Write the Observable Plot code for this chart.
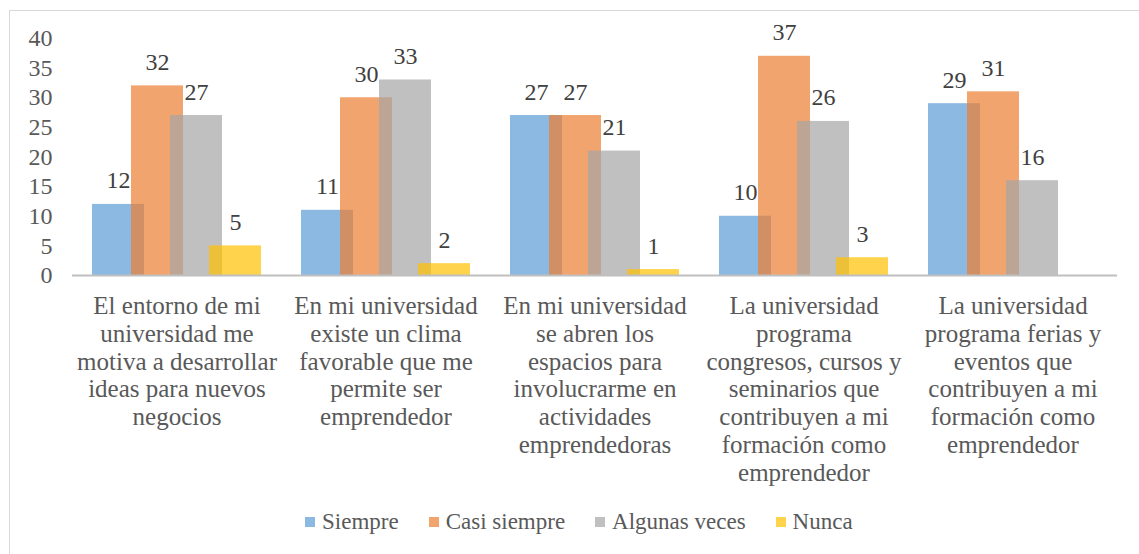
<!DOCTYPE html>
<html>
<head>
<meta charset="utf-8">
<script src="https://cdn.jsdelivr.net/npm/d3@7"></script>
<script src="https://cdn.jsdelivr.net/npm/@observablehq/plot@0.6"></script>
<style>
  html, body { margin: 0; padding: 0; background: #fff; overflow: hidden; }
  #wrap { position: relative; width: 1139px; height: 554px; overflow: hidden; }
  #frame { position: absolute; left: 9px; top: 10px; width: 1140px; height: 560px; border: 1.5px solid #D9D9D9; box-sizing: border-box; }
  #chart { position: absolute; left: 0; top: 0; }
  #legend { position: absolute; top: 506px; left: 305px; height: 32px; display: flex; align-items: center;
            font-size: 23px; color: #595959; }
  .item { display: flex; align-items: center; margin-right: 30px; }
  .sw { width: 10px; height: 10px; margin-right: 7px; }
</style>
</head>
<body>
<div id="wrap">
  <div id="frame"></div>
  <div id="chart"></div>
  <div id="legend" style="font-family:'Liberation Serif'"></div>
</div>
<script>
const categories = [
  "El entorno de mi\nuniversidad me\nmotiva a desarrollar\nideas para nuevos\nnegocios",
  "En mi universidad\nexiste un clima\nfavorable que me\npermite ser\nemprendedor",
  "En mi universidad\nse abren los\nespacios para\ninvolucrarme en\nactividades\nemprendedoras",
  "La universidad\nprograma\ncongresos, cursos y\nseminarios que\ncontribuyen a mi\nformación como\nemprendedor",
  "La universidad\nprograma ferias y\neventos que\ncontribuyen a mi\nformación como\nemprendedor"
];
const series = ["Siempre", "Casi siempre", "Algunas veces", "Nunca"];
const siempre = [12, 11, 27, 10, 29];
const casiSiempre = [32, 30, 27, 37, 31];
const algunasVeces = [27, 33, 21, 26, 16];
const nunca = [5, 2, 1, 3, 0];
const yTicks = [0, 5, 10, 15, 20, 25, 30, 35, 40];
const colors = ["#5B9BD5", "#ED7D31", "#A5A5A5", "#FFC000"];

const seriesValues = [siempre, casiSiempre, algunasVeces, nunca];

// bar geometry within a category slot (Excel: overlap 25%, gap ~80%)
const bw = 0.2488, step = bw * 0.75, off = (1 - (3 * step + bw)) / 2;

const rows = [];
categories.forEach((c, i) => {
  series.forEach((s, j) => {
    const v = seriesValues[j][i];
    const x1 = i + off + j * step;
    rows.push({cat: i, series: s, value: v, x1, x2: x1 + bw, xm: x1 + bw / 2});
  });
});

const font = "'Liberation Serif', serif";
const textColor = "#595959";

const plot = Plot.plot({
  width: 1139,
  height: 500,
  marginLeft: 72,
  marginRight: 22,
  marginTop: 38,
  marginBottom: 225,
  style: {fontFamily: font, background: "transparent", overflow: "visible"},
  x: {domain: [0, categories.length], axis: null},
  y: {domain: [0, 40], axis: null},
  color: {domain: series, range: colors},
  marks: [
    Plot.axisY({ticks: yTicks, tickSize: 0, tickPadding: 20, fontSize: 24, fill: textColor, label: null}),
    Plot.rectY(rows.filter(d => d.value > 0), {x1: "x1", x2: "x2", y: "value", fill: "series", fillOpacity: 0.7}),
    Plot.ruleY([0], {stroke: "#BFBFBF", strokeWidth: 2}),
    Plot.text(rows.filter(d => d.value > 0), {x: "xm", y: "value", text: d => String(d.value), lineAnchor: "bottom", dy: -16, fontSize: 24, fill: "#404040"}),
    Plot.text(categories, {x: (d, i) => i + 0.5, y: () => 0, text: d => d, lineAnchor: "top", dy: 19, fontSize: 25, lineHeight: 1.11, fill: textColor})
  ]
});
plot.querySelectorAll("text, tspan, g").forEach(el => el.style.setProperty("font-family", font, "important"));
plot.style.setProperty("font-family", font, "important");
document.getElementById("chart").appendChild(plot);

const legend = document.getElementById("legend");
legend.style.setProperty("font-family", font, "important");
series.forEach((s, j) => {
  const item = document.createElement("div");
  item.className = "item";
  const sw = document.createElement("span");
  sw.className = "sw";
  sw.style.background = colors[j];
  sw.style.opacity = 0.7;
  const t = document.createElement("span");
  t.textContent = s;
  t.style.setProperty("font-family", font, "important");
  item.appendChild(sw);
  item.appendChild(t);
  legend.appendChild(item);
});
</script>
</body>
</html>
